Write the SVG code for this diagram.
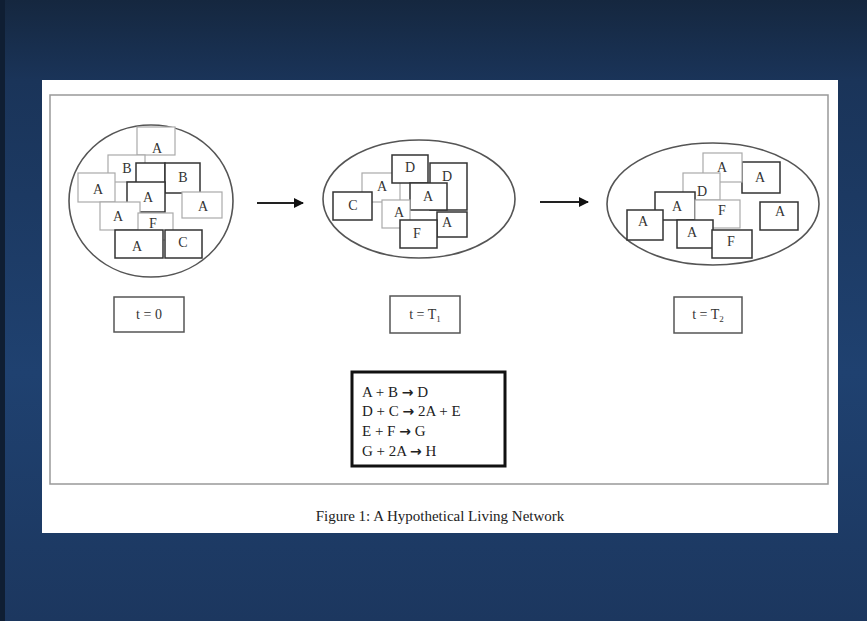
<svg xmlns="http://www.w3.org/2000/svg" width="867" height="621" viewBox="0 0 867 621">
<defs>
<linearGradient id="bg" x1="0" y1="0" x2="0" y2="1">
<stop offset="0" stop-color="#15273f"/>
<stop offset="0.13" stop-color="#1a3459"/>
<stop offset="0.6" stop-color="#1f4170"/>
<stop offset="1" stop-color="#1c375f"/>
</linearGradient>
<marker id="ah" viewBox="0 0 10 10" refX="9" refY="5" markerWidth="5" markerHeight="5" orient="auto">
<path d="M0,0 L10,5 L0,10 z" fill="#111"/>
</marker>
<style>
.ell{fill:none;stroke:#555;stroke-width:1.6}
.lb{fill:#fff;stroke:#aaa;stroke-width:1.2}
.db{fill:#fff;stroke:#333;stroke-width:1.5}
.t{font-family:"Liberation Serif",serif;font-size:14px;fill:#333;text-anchor:middle}
.lab{fill:#fff;stroke:#555;stroke-width:1.5}
.eq{font-family:"Liberation Serif",serif;font-size:15px;fill:#222}
.ar{font-family:"DejaVu Sans",sans-serif;font-weight:bold;font-size:14px}
.arr{stroke:#222;stroke-width:2;fill:none}
</style>
</defs>
<rect width="867" height="621" fill="url(#bg)"/>
<rect x="0" y="0" width="5" height="621" fill="#0f1e33"/>
<rect x="42" y="80" width="796" height="453" fill="#fff"/>
<rect x="50" y="95" width="778" height="389" fill="none" stroke="#999" stroke-width="1.5"/>

<g id="state0">
<ellipse class="ell" cx="151" cy="201" rx="82" ry="76"/>
<rect class="lb" x="137" y="127" width="38" height="28"/><text class="t" x="157" y="153">A</text>
<rect class="lb" x="108" y="155" width="37" height="27"/><text class="t" x="127" y="173">B</text>
<rect class="db" x="136" y="163" width="29" height="20"/>
<rect class="db" x="165" y="163" width="35" height="30"/><text class="t" x="183" y="182">B</text>
<rect class="lb" x="78" y="173" width="37" height="29"/><text class="t" x="98" y="194">A</text>
<rect class="db" x="127" y="182" width="38" height="30"/><text class="t" x="148" y="202">A</text>
<rect class="lb" x="182" y="192" width="40" height="26"/><text class="t" x="203" y="211">A</text>
<rect class="lb" x="100" y="202" width="40" height="28"/><text class="t" x="118" y="221">A</text>
<rect class="lb" x="138" y="213" width="35" height="27"/><text class="t" x="153" y="228">F</text>
<rect class="db" x="115" y="230" width="48" height="28"/><text class="t" x="137" y="251">A</text>
<rect class="db" x="165" y="230" width="37" height="28"/><text class="t" x="183" y="247">C</text>
</g>

<g id="state1">
<ellipse class="ell" cx="419" cy="199" rx="96" ry="59"/>
<rect class="lb" x="362" y="173" width="38" height="29"/><text class="t" x="382" y="191">A</text>
<rect class="db" x="333" y="192" width="39" height="28"/><text class="t" x="353" y="210">C</text>
<rect class="db" x="430" y="163" width="37" height="47"/><text class="t" x="447" y="181">D</text>
<rect class="db" x="392" y="155" width="36" height="28"/><text class="t" x="410" y="172">D</text>
<rect class="db" x="410" y="183" width="37" height="27"/><text class="t" x="428" y="201">A</text>
<rect class="lb" x="382" y="200" width="28" height="28"/><text class="t" x="399" y="217">A</text>
<rect class="db" x="437" y="212" width="30" height="25"/><text class="t" x="447" y="227">A</text>
<rect class="db" x="400" y="220" width="37" height="28"/><text class="t" x="417" y="238">F</text>
</g>

<g id="state2">
<ellipse class="ell" cx="713" cy="204" rx="106" ry="61"/>
<rect class="db" x="742" y="162" width="38" height="31"/><text class="t" x="760" y="182">A</text>
<rect class="lb" x="703" y="153" width="39" height="29"/><text class="t" x="722" y="172">A</text>
<rect class="lb" x="683" y="173" width="37" height="27"/><text class="t" x="702" y="196">D</text>
<rect class="db" x="655" y="192" width="40" height="28"/><text class="t" x="677" y="211">A</text>
<rect class="lb" x="695" y="200" width="45" height="28"/><text class="t" x="722" y="215">F</text>
<rect class="db" x="760" y="202" width="38" height="28"/><text class="t" x="780" y="216">A</text>
<rect class="db" x="627" y="210" width="36" height="30"/><text class="t" x="643" y="226">A</text>
<rect class="db" x="677" y="220" width="36" height="28"/><text class="t" x="692" y="237">A</text>
<rect class="db" x="712" y="230" width="40" height="28"/><text class="t" x="731" y="246">F</text>
</g>

<g id="connectors">
<line class="arr" x1="257" y1="203" x2="303" y2="203" marker-end="url(#ah)"/>
<line class="arr" x1="540" y1="202" x2="588" y2="202" marker-end="url(#ah)"/>
</g>

<g id="label0">
<rect class="lab" x="114" y="297" width="70" height="35"/>
<text class="t" x="149" y="319">t = 0</text>
</g>
<g id="label1">
<rect class="lab" x="390" y="296" width="70" height="37"/>
<text class="t" x="425" y="319">t = T<tspan font-size="9" dy="3">1</tspan></text>
</g>
<g id="label2">
<rect class="lab" x="674" y="297" width="68" height="36"/>
<text class="t" x="708" y="319">t = T<tspan font-size="9" dy="3">2</tspan></text>
</g>

<g id="equations">
<rect x="352" y="372" width="153" height="94" fill="#fff" stroke="#111" stroke-width="3"/>
<text class="eq" x="362" y="397">A + B <tspan class="ar">→</tspan> D</text>
<text class="eq" x="362" y="416">D + C <tspan class="ar">→</tspan> 2A + E</text>
<text class="eq" x="362" y="436">E + F <tspan class="ar">→</tspan> G</text>
<text class="eq" x="362" y="456">G + 2A <tspan class="ar">→</tspan> H</text>
</g>

<text x="440" y="521" font-family="Liberation Serif, serif" font-size="15" fill="#222" text-anchor="middle">Figure 1: A Hypothetical Living Network</text>
</svg>
